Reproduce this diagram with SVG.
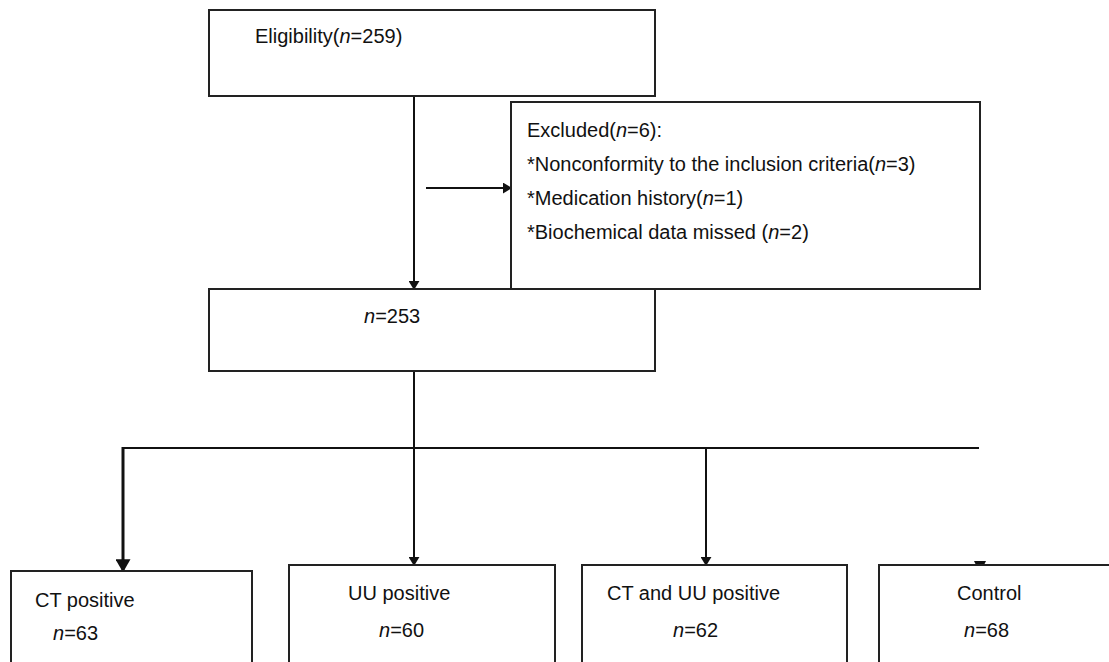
<svg xmlns="http://www.w3.org/2000/svg" width="1109" height="662" viewBox="0 0 1109 662">
<style>
.box{fill:#fff;stroke:#222;stroke-width:2}
.t{font-family:"Liberation Sans",Arial,sans-serif;font-size:20px;fill:#111}
.i{font-style:italic}
.ln{stroke:#111;stroke-width:2;fill:none}
.thick{stroke:#111;stroke-width:3;fill:none}
</style>
<defs>
<marker id="ah" viewBox="0 0 10 10" refX="9" refY="5" markerWidth="9" markerHeight="11" orient="auto" markerUnits="userSpaceOnUse" preserveAspectRatio="none">
<path d="M0,0 L10,5 L0,10 Z" fill="#111"/>
</marker>
<marker id="ah3" viewBox="0 0 10 10" refX="9" refY="5" markerWidth="13" markerHeight="15" orient="auto" markerUnits="userSpaceOnUse" preserveAspectRatio="none">
<path d="M0,0 L10,5 L0,10 Z" fill="#111"/>
</marker>
</defs>
<rect width="1109" height="662" fill="#fff"/>
<g id="connectors">
<line class="ln" x1="414" y1="90" x2="414" y2="289" marker-end="url(#ah)"/>
<line class="ln" x1="426" y1="188" x2="511" y2="188" marker-end="url(#ah)"/>
<line class="ln" x1="414" y1="369" x2="414" y2="565" marker-end="url(#ah)"/>
<line class="ln" x1="122" y1="448" x2="979" y2="448"/>
<line class="thick" x1="123" y1="447" x2="123" y2="571" marker-end="url(#ah3)"/>
<line class="ln" x1="706" y1="448" x2="706" y2="565" marker-end="url(#ah)"/>
<path d="M974,561 L986,561 L984,565 L976,565 Z" fill="#111"/>
</g>
<g id="eligibility">
<rect class="box" x="209" y="10" width="446" height="86"/>
<text class="t" x="255" y="43">Eligibility(<tspan class="i">n</tspan>=259)</text>
</g>
<g id="excluded">
<rect class="box" x="511" y="102" width="469" height="187"/>
<text class="t" x="527" y="137">Excluded(<tspan class="i">n</tspan>=6):</text>
<text class="t" x="527" y="171">*Nonconformity to the inclusion criteria(<tspan class="i">n</tspan>=3)</text>
<text class="t" x="527" y="205">*Medication history(<tspan class="i">n</tspan>=1)</text>
<text class="t" x="527" y="239">*Biochemical data missed (<tspan class="i">n</tspan>=2)</text>
</g>
<g id="included">
<rect class="box" x="209" y="289" width="446" height="82"/>
<text class="t" x="364" y="323"><tspan class="i">n</tspan>=253</text>
</g>
<g id="ct">
<rect class="box" x="11" y="571" width="241" height="100"/>
<text class="t" x="35" y="607">CT positive</text>
<text class="t" x="53" y="640"><tspan class="i">n</tspan>=63</text>
</g>
<g id="uu">
<rect class="box" x="289" y="565" width="266" height="106"/>
<text class="t" x="348" y="600">UU positive</text>
<text class="t" x="379" y="637"><tspan class="i">n</tspan>=60</text>
</g>
<g id="ctuu">
<rect class="box" x="582" y="565" width="265" height="106"/>
<text class="t" x="607" y="600">CT and UU positive</text>
<text class="t" x="673" y="637"><tspan class="i">n</tspan>=62</text>
</g>
<g id="control">
<rect class="box" x="879" y="565" width="240" height="106"/>
<text class="t" x="957" y="600">Control</text>
<text class="t" x="964" y="637"><tspan class="i">n</tspan>=68</text>
</g>
</svg>
